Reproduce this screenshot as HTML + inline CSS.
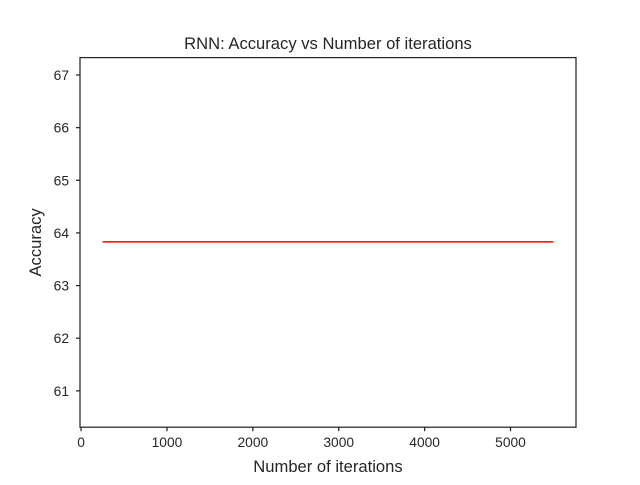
<!DOCTYPE html>
<html><head><meta charset="utf-8"><style>
body{margin:0;background:#fff;}
svg text{font-family:"Liberation Sans","DejaVu Sans",sans-serif;fill:#262626;}
</style></head><body>
<svg id="chart" width="640" height="480" xmlns="http://www.w3.org/2000/svg">
<rect width="640" height="480" fill="#fff"/>
<text x="328" y="49" font-size="16.6" text-anchor="middle">RNN: Accuracy vs Number of iterations</text>
<g id="xt"></g><g id="yt"></g>
<polyline id="series" fill="none" stroke="#ff0000" stroke-width="1.5"/>
<rect x="80" y="57.6" width="496" height="369.6" fill="none" stroke="#262626" stroke-width="1.25"/>
<text x="328" y="472" font-size="16.6" text-anchor="middle">Number of iterations</text>
<text transform="translate(41,242.4) rotate(-90)" font-size="16.6" text-anchor="middle">Accuracy</text>
</svg>
<script>
const iterations=[250,500,750,1000,1250,1500,1750,2000,2250,2500,2750,3000,3250,3500,3750,4000,4250,4500,4750,5000,5250,5500];
const accuracy=[63.83,63.83,63.83,63.83,63.83,63.83,63.83,63.83,63.83,63.83,63.83,63.83,63.83,63.83,63.83,63.83,63.83,63.83,63.83,63.83,63.83,63.83];
const xTicks=[0,1000,2000,3000,4000,5000];
const yTicks=[61,62,63,64,65,66,67];
const L=80,R=576,T=57.6,B=427.2;
const xMin=-12.5,xMax=5762.5,yMin=60.31,yMax=67.33;
const sx=v=>L+(v-xMin)/(xMax-xMin)*(R-L);
const sy=v=>B-(v-yMin)/(yMax-yMin)*(B-T);
const NS="http://www.w3.org/2000/svg";
const xt=document.getElementById('xt'),yt=document.getElementById('yt');
xTicks.forEach(v=>{
 const l=document.createElementNS(NS,'line');
 l.setAttribute('x1',sx(v));l.setAttribute('x2',sx(v));l.setAttribute('y1',B);l.setAttribute('y2',B+4);
 l.setAttribute('stroke','#262626');l.setAttribute('stroke-width','1.25');
 
 
 xt.appendChild(l);
 const t=document.createElementNS(NS,'text');
 t.setAttribute('x',sx(v));t.setAttribute('y',B+20);t.setAttribute('font-size','13.8');t.setAttribute('text-anchor','middle');
 t.textContent=v;
 
 
 xt.appendChild(t);
});
yTicks.forEach(v=>{
 const l=document.createElementNS(NS,'line');
 l.setAttribute('x1',L-4);l.setAttribute('x2',L);l.setAttribute('y1',sy(v));l.setAttribute('y2',sy(v));
 l.setAttribute('stroke','#262626');l.setAttribute('stroke-width','1.25');
 
 
 yt.appendChild(l);
 const t=document.createElementNS(NS,'text');
 t.setAttribute('x',L-11);t.setAttribute('y',sy(v)+5);t.setAttribute('font-size','13.8');t.setAttribute('text-anchor','end');
 t.textContent=v;
 
 
 yt.appendChild(t);
});
document.getElementById('series').setAttribute('points',iterations.map((x,i)=>sx(x)+','+sy(accuracy[i])).join(' '));
</script>
</body></html>
